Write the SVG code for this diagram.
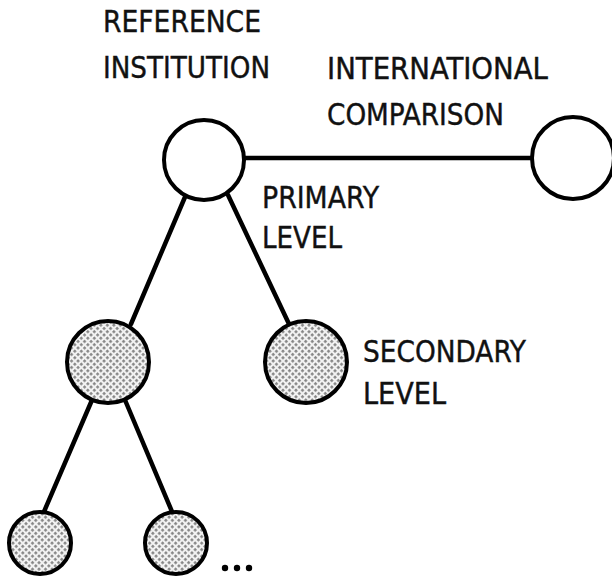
<svg xmlns="http://www.w3.org/2000/svg" width="612" height="578" viewBox="0 0 612 578">
<defs>
<pattern id="stip" width="4.6" height="4.6" patternUnits="userSpaceOnUse" patternTransform="rotate(45)">
<rect width="4.6" height="4.6" fill="#f2f2f2"/>
<rect x="1" y="1" width="2.5" height="2.5" fill="#808080"/>
</pattern>
</defs>
<style>
.c{stroke:#000;stroke-width:4;fill:#fff}
.s{stroke:#000;stroke-width:4;fill:url(#stip)}
.l{stroke:#000;stroke-width:4.5;fill:none;stroke-linecap:round}
text{font-family:"DejaVu Sans Condensed","Liberation Sans",sans-serif;font-size:30px;fill:#111;stroke:#111;stroke-width:0.4}
</style>
<g id="connectors">
<line class="l" x1="245" y1="158" x2="532" y2="158"/>
<line class="l" x1="185" y1="197" x2="131" y2="324"/>
<line class="l" x1="228" y1="195" x2="289" y2="324"/>
<line class="l" x1="92" y1="400" x2="43" y2="514"/>
<line class="l" x1="125" y1="400" x2="173" y2="514"/>
</g>
<g id="reference">
<circle class="c" cx="204" cy="160" r="40"/>
<text x="103" y="32" textLength="158" lengthAdjust="spacingAndGlyphs">REFERENCE</text>
<text x="103" y="78" textLength="167" lengthAdjust="spacingAndGlyphs">INSTITUTION</text>
</g>
<g id="international">
<circle class="c" cx="573" cy="158" r="41"/>
<text x="327" y="79" textLength="221" lengthAdjust="spacingAndGlyphs">INTERNATIONAL</text>
<text x="327" y="125" textLength="177" lengthAdjust="spacingAndGlyphs">COMPARISON</text>
</g>
<g id="primary">
<text x="262" y="208" textLength="117" lengthAdjust="spacingAndGlyphs">PRIMARY</text>
<text x="262" y="248" textLength="80" lengthAdjust="spacingAndGlyphs">LEVEL</text>
</g>
<g id="left-mid">
<circle class="s" cx="108" cy="362" r="41"/>
</g>
<g id="secondary">
<circle class="s" cx="306" cy="362" r="41"/>
<text x="363" y="362" textLength="163" lengthAdjust="spacingAndGlyphs">SECONDARY</text>
<text x="363" y="404" textLength="83" lengthAdjust="spacingAndGlyphs">LEVEL</text>
</g>
<g id="bottom-left">
<circle class="s" cx="40" cy="543" r="31"/>
</g>
<g id="bottom-right">
<circle class="s" cx="176" cy="543" r="31"/>
</g>
<g id="ellipsis">
<circle cx="225" cy="568" r="3.2" fill="#000"/>
<circle cx="237" cy="568" r="3.2" fill="#000"/>
<circle cx="249" cy="568" r="3.2" fill="#000"/>
</g>
</svg>
